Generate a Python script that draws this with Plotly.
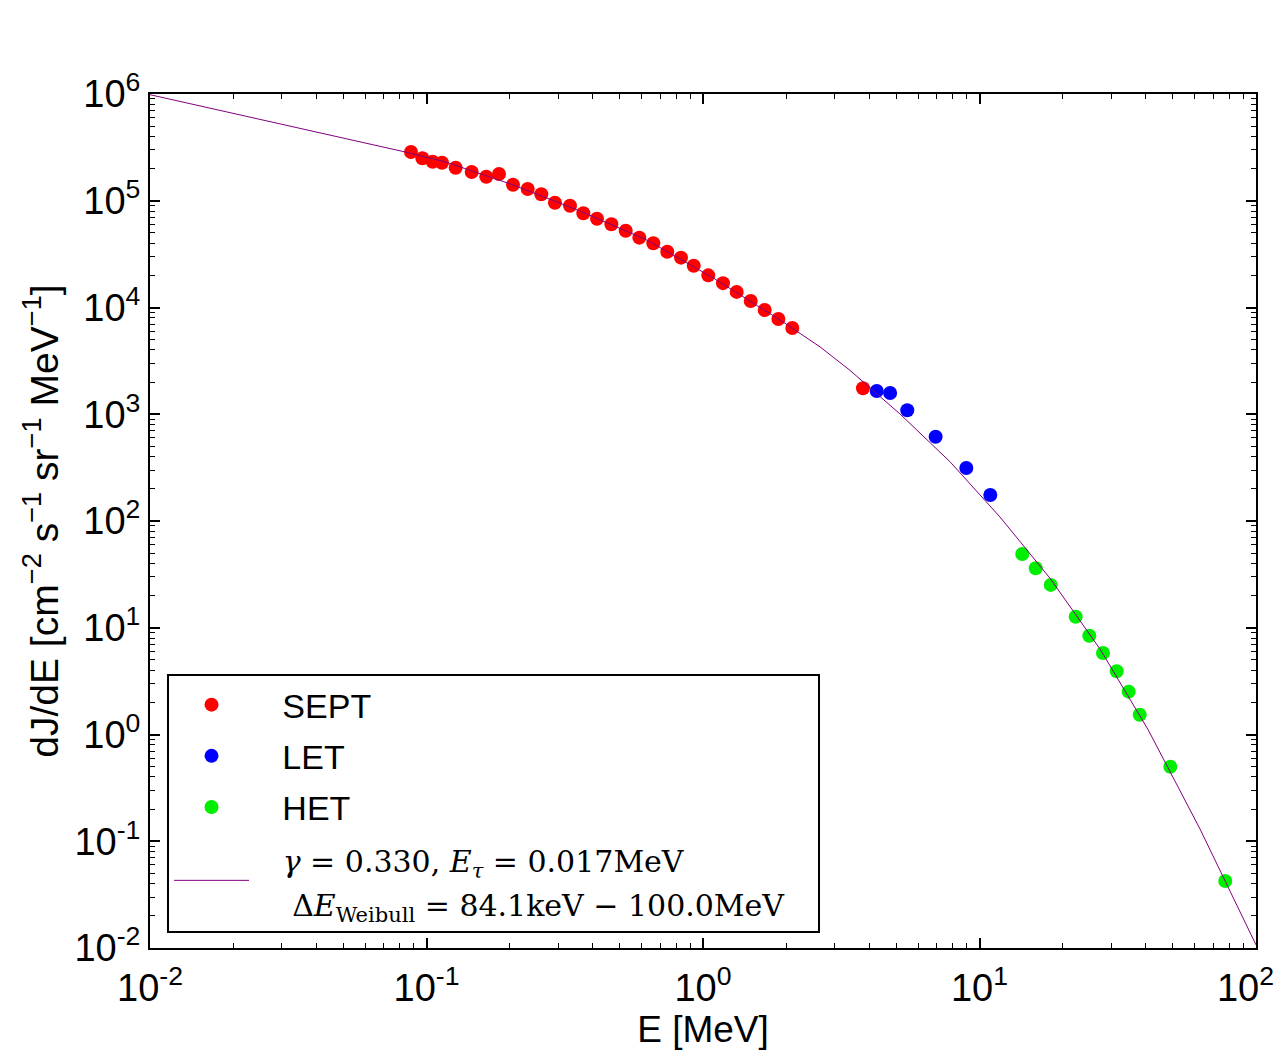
import plotly.graph_objects as go

# ---- data ----
sept_E = [0.0879, 0.0966, 0.1053, 0.1138, 0.1275, 0.1457, 0.1645, 0.1829, 0.2055, 0.2323,
          0.2601, 0.2914, 0.3304, 0.3691, 0.4137, 0.4662, 0.5253, 0.5884, 0.6612, 0.7428,
          0.8325, 0.9256, 1.045, 1.181, 1.324, 1.488, 1.672, 1.873, 2.104, 3.79]
sept_J = [2.86e5, 2.50e5, 2.32e5, 2.27e5, 2.04e5, 1.86e5, 1.68e5, 1.78e5, 1.41e5, 1.29e5,
          1.15e5, 9.59e4, 8.99e4, 7.63e4, 6.79e4, 6.02e4, 5.24e4, 4.51e4, 4.00e4, 3.33e4,
          2.93e4, 2.46e4, 2.00e4, 1.69e4, 1.40e4, 1.15e4, 9.48e3, 7.81e3, 6.43e3, 1.75e3]

let_E = [4.25, 4.75, 5.48, 6.94, 8.96, 10.94]
let_J = [1651, 1581, 1089, 616, 314, 175]

het_E = [14.28, 15.97, 18.1, 22.28, 24.95, 27.97, 31.35, 34.64, 37.97, 48.98, 77.4]
het_J = [49.1, 36.1, 25.2, 12.69, 8.42, 5.80, 3.91, 2.52, 1.53, 0.499, 0.0424]

fit_E = [0.01, 0.0841, 0.1183, 0.206, 0.359, 0.626, 1.09, 1.899, 2.649, 3.40,
         5.16, 7.82, 11.86, 17.99, 27.28, 40.78, 62.74, 100.0]
fit_J = [9.85e5, 2.856e5, 2.292e5, 1.405e5, 8.02e4, 4.29e4, 1.89e4, 7.64e3, 4.28e3, 2.58e3,
         1005, 359.4, 109.0, 29.06, 6.32, 1.102, 0.1302, 0.0107]

x_tickvals = [0.01, 0.1, 1, 10, 100]
x_ticktext = ["10<sup>-2</sup>", "10<sup>-1</sup>", "10<sup>0</sup>", "10<sup>1</sup>",
              "10<sup>2</sup>\u00a0\u00a0"]
y_tickvals = [1e-2, 1e-1, 1, 10, 100, 1e3, 1e4, 1e5, 1e6]
y_ticktext = ["10<sup>-2</sup>", "10<sup>-1</sup>", "10<sup>0</sup>", "10<sup>1</sup>", "10<sup>2</sup>",
              "10<sup>3</sup>", "10<sup>4</sup>", "10<sup>5</sup>", "10<sup>6</sup>"]

SANS = "Liberation Sans, Arial, Helvetica, sans-serif"
SERIF = "DejaVu Serif, Liberation Serif, serif"
PAD = "\u00a0\u00a0\u00a0"

fig = go.Figure()
fig.add_trace(go.Scatter(x=sept_E, y=sept_J, mode="markers", name=PAD + "SEPT", legendgroup="a",
                         marker=dict(color="#ff0000", size=14, line=dict(width=0))))
fig.add_trace(go.Scatter(x=let_E, y=let_J, mode="markers", name=PAD + "LET", legendgroup="b",
                         marker=dict(color="#0000ff", size=14, line=dict(width=0))))
fig.add_trace(go.Scatter(x=het_E, y=het_J, mode="markers", name=PAD + "HET", legendgroup="c",
                         marker=dict(color="#00ee00", size=14, line=dict(width=0))))
fit_name = ('<span style="font-family:%s;font-size:30px">%s<i>γ</i> = 0.330, <i>E</i><sub><i>τ</i></sub> = 0.017MeV<br>'
            '%s\u00a0Δ<i>E</i><sub>Weibull</sub> = 84.1keV − 100.0MeV\u00a0\u00a0\u00a0</span>' % (SERIF, PAD, PAD))
fig.add_trace(go.Scatter(x=fit_E, y=fit_J, mode="lines", name=fit_name, legendgroup="d",
                         line=dict(color="#800080", width=1)))

axis_common = dict(
    type="log", showgrid=False, zeroline=False, automargin=False,
    showline=True, linecolor="black", linewidth=2, mirror="allticks",
    ticks="inside", ticklen=10, tickwidth=1.5, tickcolor="black",
    minor=dict(ticks="inside", ticklen=5, tickwidth=1, tickcolor="black", dtick="D1", showgrid=False),
    tickfont=dict(family=SANS, size=38, color="black"),
    ticklabeloverflow="allow",
)

fig.update_xaxes(**axis_common, range=[-2, 2], tickvals=x_tickvals, ticktext=x_ticktext,
                 ticklabelstandoff=5,
                 title=dict(text="E [MeV]", font=dict(family=SANS, size=37, color="black"), standoff=6))
fig.update_yaxes(**axis_common, range=[-2, 6], tickvals=y_tickvals, ticktext=y_ticktext,
                 title=dict(text="dJ/dE [cm<sup>−2</sup> s<sup>−1</sup> sr<sup>−1</sup> MeV<sup>−1</sup>]",
                            font=dict(family=SANS, size=39, color="black"), standoff=4))

fig.update_layout(
    width=1283, height=1051,
    margin=dict(l=150, r=27, t=94, b=103),
    paper_bgcolor="white", plot_bgcolor="white",
    font=dict(family=SANS, color="black"),
    legend=dict(x=0.0154, y=0.0175, xanchor="left", yanchor="bottom",
                bgcolor="white", bordercolor="black", borderwidth=2,
                font=dict(family=SANS, size=34, color="black"),
                tracegroupgap=4, itemwidth=75),
    showlegend=True,
)

fig.write_html("out.html", config={"displayModeBar": False},
               post_script="document.body.style.margin='0';document.body.style.overflow='hidden';")
